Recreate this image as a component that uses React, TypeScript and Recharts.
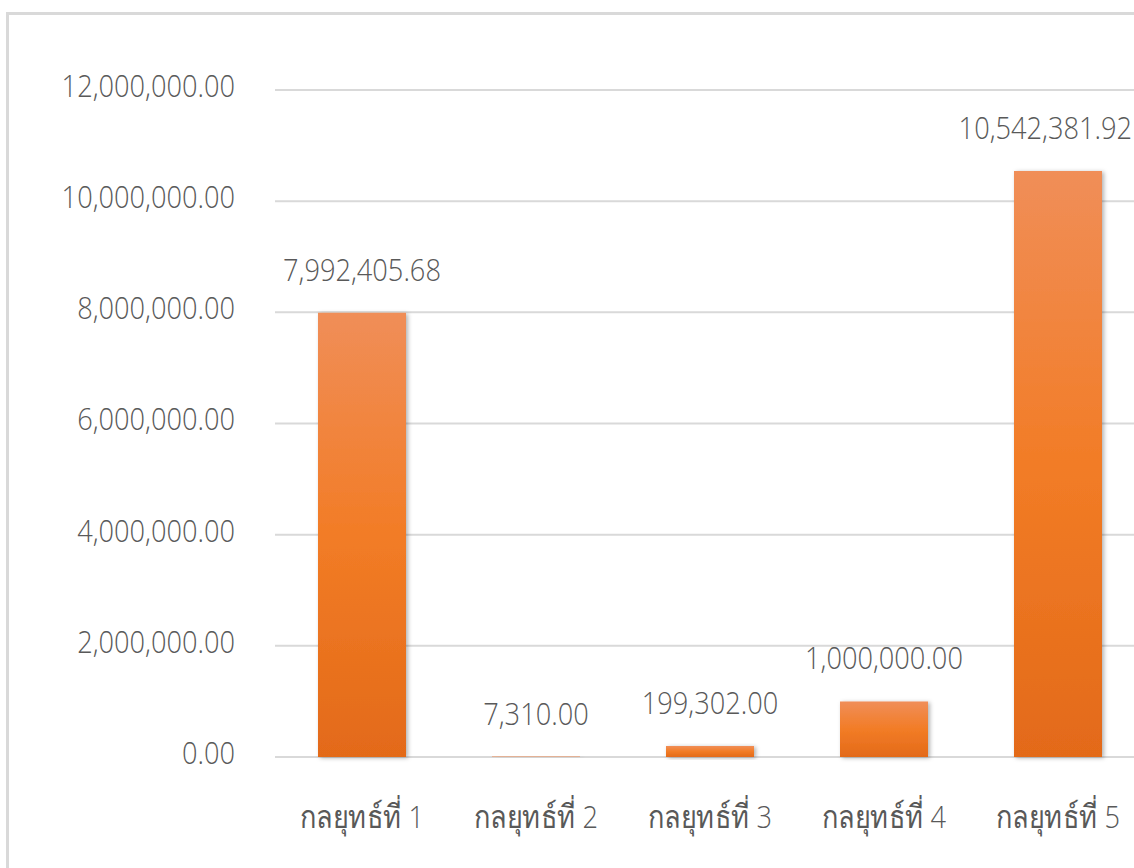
import React from "react";
import { BarChart, Bar, XAxis, YAxis, CartesianGrid, LabelList } from "recharts";

const categories = ["กลยุทธ์ที่ 1", "กลยุทธ์ที่ 2", "กลยุทธ์ที่ 3", "กลยุทธ์ที่ 4", "กลยุทธ์ที่ 5"];
const values = [7992405.68, 7310.0, 199302.0, 1000000.0, 10542381.92];
const yTicks = [0, 2000000, 4000000, 6000000, 8000000, 10000000, 12000000];

const data = categories.map((name, i) => ({ name, value: values[i] }));

const fmt = (v: number) =>
  Number(v).toLocaleString("en-US", { minimumFractionDigits: 2, maximumFractionDigits: 2 });

const FONT = "'Open Sans', 'Noto Sans', sans-serif";
const TEXT = "#595959";
const SX = 0.85;
const VIEW_RIGHT = 1132;

function NarrowText({ x, y, anchor, children, dy = 0 }: any) {
  return (
    <text
      x={x}
      y={y}
      dy={dy}
      textAnchor={anchor}
      fill={TEXT}
      fontSize={32}
      fontFamily={FONT}
      fontWeight={300}
      transform={`translate(${x},0) scale(${SX},1) translate(${-x},0)`}
    >
      {children}
    </text>
  );
}

const YTick = (props: any) => {
  const { x, y, payload } = props;
  return (
    <NarrowText x={x} y={y} anchor="end" dy={7}>
      {fmt(payload.value)}
    </NarrowText>
  );
};

const XTick = (props: any) => {
  const { x, y, payload } = props;
  return (
    <NarrowText x={x} y={y} anchor="middle" dy={23}>
      {payload.value}
    </NarrowText>
  );
};

const ValueLabel = (props: any) => {
  const { x, y, width, value } = props;
  const cx = Number(x) + Number(width) / 2;
  const text = fmt(value);
  const estW = text.length * 32 * 0.5 * SX;
  const fits = cx + estW / 2 <= VIEW_RIGHT;
  return (
    <NarrowText x={fits ? cx : VIEW_RIGHT} y={Number(y) - 32} anchor={fits ? "middle" : "end"}>
      {text}
    </NarrowText>
  );
};

export default function App() {
  return (
    <div style={{ position: "fixed", left: 0, top: 0, width: 1134, height: 868, overflow: "hidden", background: "#fff" }}>
      <div
        style={{
          position: "absolute",
          left: 6,
          top: 12,
          width: 1300,
          height: 1000,
          border: "3px solid #d9d9d9",
          boxSizing: "border-box",
        }}
      />
      <div style={{ position: "absolute", left: 0, top: 0 }}>
        <BarChart
          width={1145}
          height={868}
          data={data}
          margin={{ top: 90, right: 0, bottom: 0, left: 0 }}
          barSize={88}
        >
          <defs>
            <linearGradient id="barGrad" x1="0" y1="0" x2="0" y2="1">
              <stop offset="0%" stopColor="#F08E58" />
              <stop offset="50%" stopColor="#F27C26" />
              <stop offset="100%" stopColor="#E36A19" />
            </linearGradient>
            <filter id="shadow" x="-20%" y="-20%" width="140%" height="140%">
              <feDropShadow dx="2" dy="1" stdDeviation="2" floodColor="#000" floodOpacity="0.3" />
            </filter>
          </defs>
          <CartesianGrid vertical={false} stroke="#d9d9d9" strokeWidth={2} />
          <XAxis
            dataKey="name"
            height={111}
            axisLine={false}
            tickLine={false}
            tickSize={0}
            tickMargin={48}
            interval={0}
            tick={<XTick />}
          />
          <YAxis
            width={275}
            domain={[0, 12000000]}
            ticks={yTicks}
            axisLine={false}
            tickLine={false}
            tickSize={0}
            tickMargin={40}
            tick={<YTick />}
          />
          <Bar dataKey="value" fill="url(#barGrad)" filter="url(#shadow)" isAnimationActive={false}>
            <LabelList dataKey="value" content={<ValueLabel />} />
          </Bar>
        </BarChart>
      </div>
    </div>
  );
}
